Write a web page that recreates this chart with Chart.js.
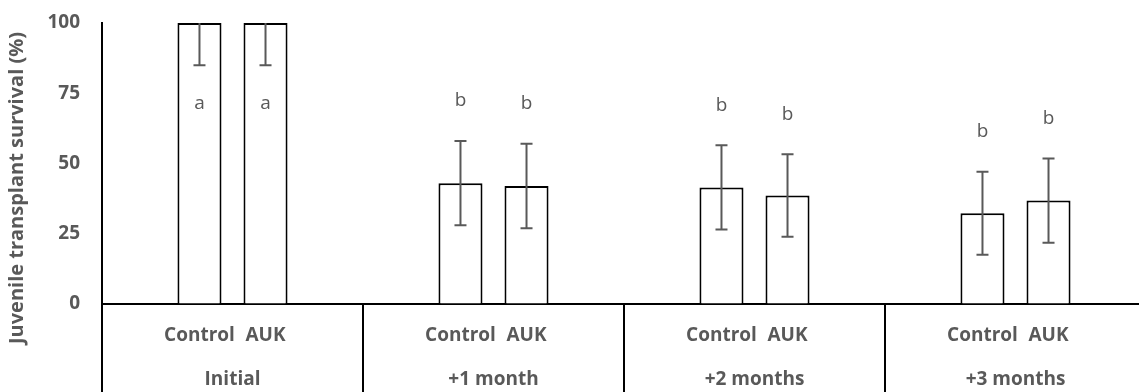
<!DOCTYPE html>
<html>
<head>
<meta charset="utf-8">
<script src="https://cdn.jsdelivr.net/npm/chart.js@4/dist/chart.umd.min.js"></script>
<style>
  html, body { margin: 0; padding: 0; background: #fff; overflow: hidden; }
  #wrap { width: 1150px; height: 392px; }
</style>
</head>
<body>
<div id="wrap"><canvas id="chart" width="1150" height="392"></canvas></div>
<script>
// Chart data
const groupLabels = ['Initial', '+1 month', '+2 months', '+3 months'];
const seriesNames = ['Control', 'AUK'];
const controlValues = [100, 43, 41.5, 32.3];
const aukValues = [100, 42, 38.6, 36.8];
const controlErr = [15, 15, 15, 14.8];
const aukErr = [15, 15, 14.7, 15];
const controlLetters = ['a', 'b', 'b', 'b'];
const aukLetters = ['a', 'b', 'b', 'b'];
const yTicks = [0, 25, 50, 75, 100];
const yTitle = 'Juvenile transplant survival (%)';

const textGray = '#595959';
const fontFamily = '"Open Sans", "DejaVu Sans", sans-serif';

// Error bars, significance letters, axis label rows and y title
const annotations = {
  id: 'annotations',
  afterDatasetsDraw(chart) {
    const ctx = chart.ctx;
    const y = chart.scales.y;
    const area = chart.chartArea;
    const errs = [controlErr, aukErr];
    const letters = [controlLetters, aukLetters];

    chart.data.datasets.forEach((ds, di) => {
      const meta = chart.getDatasetMeta(di);
      meta.data.forEach((bar, i) => {
        const v = ds.data[i];
        const e = errs[di][i];
        const rawTop = y.getPixelForValue(v + e);
        const top = Math.max(rawTop, area.top);
        const bottom = y.getPixelForValue(v - e);

        // error bar
        ctx.save();
        ctx.strokeStyle = textGray;
        ctx.lineWidth = 2;
        ctx.beginPath();
        ctx.moveTo(bar.x, top);
        ctx.lineTo(bar.x, bottom);
        ctx.moveTo(bar.x - 6, bottom);
        ctx.lineTo(bar.x + 6, bottom);
        if (rawTop >= area.top) {
          ctx.moveTo(bar.x - 6, top);
          ctx.lineTo(bar.x + 6, top);
        }
        ctx.stroke();

        // letter above the error bar, or inside the bar if there is no room
        let ly = rawTop - 40;
        if (ly < area.top) ly = bottom + 38;
        ctx.fillStyle = textGray;
        ctx.font = '19px ' + fontFamily;
        ctx.textAlign = 'center';
        ctx.textBaseline = 'middle';
        ctx.fillText(letters[di][i], bar.x, ly);
        ctx.restore();
      });
    });
  },
  afterDraw(chart) {
    const ctx = chart.ctx;
    const x = chart.scales.x;
    const area = chart.chartArea;
    ctx.save();
    ctx.fillStyle = textGray;
    ctx.textAlign = 'center';
    ctx.textBaseline = 'middle';
    ctx.font = 'bold 19px ' + fontFamily;

    // series name under each bar
    chart.data.datasets.forEach((ds, di) => {
      chart.getDatasetMeta(di).data.forEach(bar => {
        ctx.fillText(ds.label, bar.x, area.bottom + 32);
      });
    });

    // group names on the second row
    groupLabels.forEach((g, i) => {
      ctx.fillText(g, x.getPixelForValue(i), area.bottom + 76);
    });

    // y axis title
    ctx.translate(17, 188);
    ctx.rotate(-Math.PI / 2);
    ctx.font = 'bold 20px ' + fontFamily;
    ctx.fillText(yTitle, 0, 0);
    ctx.restore();
  }
};

new Chart(document.getElementById('chart'), {
  type: 'bar',
  data: {
    labels: groupLabels,
    datasets: [
      {
        label: seriesNames[0],
        data: controlValues,
        backgroundColor: '#ffffff',
        borderColor: '#000000',
        borderWidth: 2,
        categoryPercentage: 0.506,
        barPercentage: 0.667
      },
      {
        label: seriesNames[1],
        data: aukValues,
        backgroundColor: '#ffffff',
        borderColor: '#000000',
        borderWidth: 2,
        categoryPercentage: 0.506,
        barPercentage: 0.667
      }
    ]
  },
  options: {
    responsive: false,
    animation: false,
    layout: { padding: { top: 23, right: 4, bottom: 0, left: 0 } },
    plugins: {
      legend: { display: false },
      tooltip: { enabled: false }
    },
    scales: {
      x: {
        offset: true,
        grid: {
          offset: true,
          drawOnChartArea: false,
          drawTicks: true,
          tickLength: 88,
          color: '#000000',
          lineWidth: 2
        },
        border: { display: true, color: '#000000', width: 2 },
        ticks: { display: false }
      },
      y: {
        min: 0,
        max: 100,
        afterBuildTicks: (scale) => { scale.ticks = yTicks.map(v => ({ value: v })); },
        grid: {
          display: true,
          drawOnChartArea: false,
          drawTicks: true,
          tickLength: 20,
          color: 'rgba(0,0,0,0)'
        },
        border: { display: true, color: '#000000', width: 2 },
        ticks: {
          color: textGray,
          padding: 2,
          font: { family: fontFamily, size: 19, weight: 'bold' }
        },
        afterFit: (scale) => { scale.width = 102; }
      }
    }
  },
  plugins: [annotations]
});
</script>
</body>
</html>
